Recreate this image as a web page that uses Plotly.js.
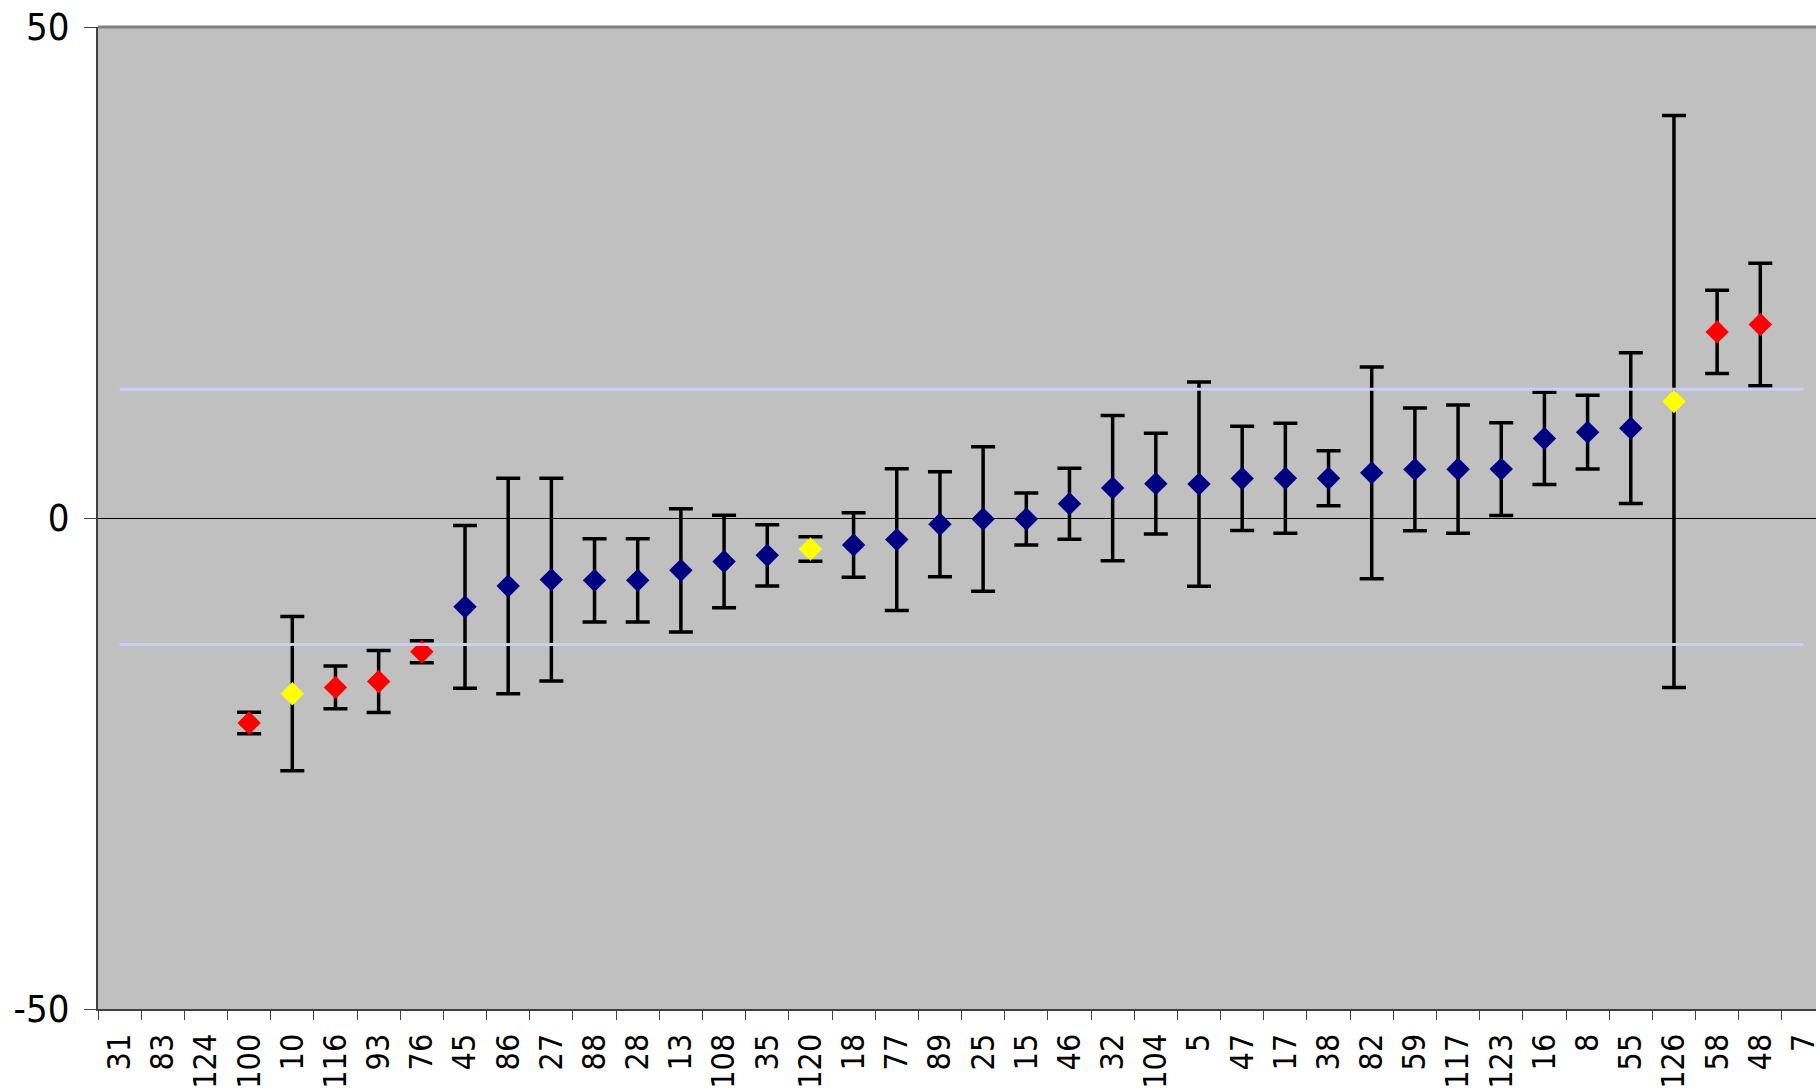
<!DOCTYPE html>
<html>
<head>
<meta charset="utf-8">
<script src="https://cdn.plot.ly/plotly-3.0.1.min.js"></script>
<style>
  html, body { margin: 0; padding: 0; background: #ffffff; }
  #chart { width: 1816px; height: 1090px; }
</style>
</head>
<body>
<div id="chart"></div>
<script>
// Category order along the x axis
const categories = ["31","83","124","100","10","116","93","76","45","86","27","88","28","13","108","35","120","18","77","89","25","15","46","32","104","5","47","17","38","82","59","117","123","16","8","55","126","58","48","7"];

// Red series
const redCats   = ["100","116","93","76","58","48"];
const redValues = [-20.87, -17.25, -16.65, -13.62, 18.95, 19.7];
const redErrors = [1.1, 2.18, 3.15, 1.12, 4.24, 6.24];

// Yellow series
const yellowCats   = ["10","120","126"];
const yellowValues = [-17.89, -3.15, 11.87];
const yellowErrors = [7.85, 1.25, 29.13];

// Navy series
const navyCats   = ["45","86","27","88","28","13","108","35","18","77","89","25","15","46","32","104","5","47","17","38","82","59","117","123","16","8","55"];
const navyValues = [-9.05, -6.93, -6.28, -6.35, -6.35, -5.33, -4.43, -3.8, -2.75, -2.2, -0.63, -0.1, -0.1, 1.45, 3.05, 3.5, 3.45, 4.03, 4.05, 4.05, 4.6, 4.95, 4.97, 4.98, 8.1, 8.74, 9.15];
const navyErrors = [8.29, 10.97, 10.32, 4.24, 4.24, 6.28, 4.7, 3.12, 3.29, 7.22, 5.34, 7.36, 2.65, 3.62, 7.4, 5.14, 10.4, 5.31, 5.61, 2.8, 10.78, 6.25, 6.53, 4.72, 4.7, 3.76, 7.67];

// Control limit lines
const limitCats  = ["31", "7"];
const upperLimit = [13.1, 13.1];
const lowerLimit = [-12.88, -12.88];

// Y axis ticks
const yTickVals  = [-50, 0, 50];
const yTickText  = ["-50", "0", "50"];

const FONT = "DejaVu Sans Condensed, DejaVu Sans, sans-serif";

function pointTrace(x, y, err, color) {
  return {
    type: "scatter", mode: "markers", x: x, y: y,
    marker: { symbol: "diamond", size: 18, color: color, line: { width: 0 } },
    error_y: { type: "data", array: err, visible: true, color: "#000000", thickness: 3.5, width: 12 },
    showlegend: false, hoverinfo: "skip", cliponaxis: false
  };
}
function limitTrace(x, y) {
  return {
    type: "scatter", mode: "lines", x: x, y: y,
    line: { color: "#CCCCFF", width: 3 },
    showlegend: false, hoverinfo: "skip"
  };
}

const data = [
  pointTrace(navyCats, navyValues, navyErrors, "#000080"),
  pointTrace(redCats, redValues, redErrors, "#FF0000"),
  pointTrace(yellowCats, yellowValues, yellowErrors, "#FFFF00"),
  limitTrace(limitCats, upperLimit),
  limitTrace(limitCats, lowerLimit)
];

const layout = {
  width: 1816, height: 1090,
  margin: { l: 98, r: 0, t: 27, b: 81, pad: 0 },
  paper_bgcolor: "#ffffff",
  plot_bgcolor: "#C0C0C0",
  font: { family: FONT, color: "#000000" },
  xaxis: {
    type: "category",
    categoryorder: "array",
    categoryarray: categories,
    range: [-0.5, 39.29],
    tickson: "boundaries",
    ticks: "outside", ticklen: 9, tickwidth: 1, tickcolor: "#404040",
    showline: true, linecolor: "#404040", linewidth: 2,
    showgrid: false, zeroline: false,
    tickangle: -90,
    tickfont: { family: FONT, size: 32, color: "#000000" },
    ticklabelstandoff: 10,
    fixedrange: true
  },
  yaxis: {
    range: [-50, 50],
    tickmode: "array", tickvals: yTickVals, ticktext: yTickText,
    ticks: "outside", ticklen: 12, tickwidth: 1, tickcolor: "#404040",
    showline: true, linecolor: "#404040", linewidth: 2,
    showgrid: false,
    zeroline: true, zerolinecolor: "#000000", zerolinewidth: 1,
    tickfont: { family: FONT, size: 38, color: "#000000" },
    ticklabelstandoff: 7,
    fixedrange: true
  },
  shapes: [
    { type: "line", xref: "paper", yref: "paper", x0: 0, x1: 1, y0: 1, y1: 1,
      line: { color: "#808080", width: 3 } }
  ],
  showlegend: false,
  hovermode: false
};

Plotly.newPlot("chart", data, layout, { displayModeBar: false, staticPlot: true });
</script>
</body>
</html>
